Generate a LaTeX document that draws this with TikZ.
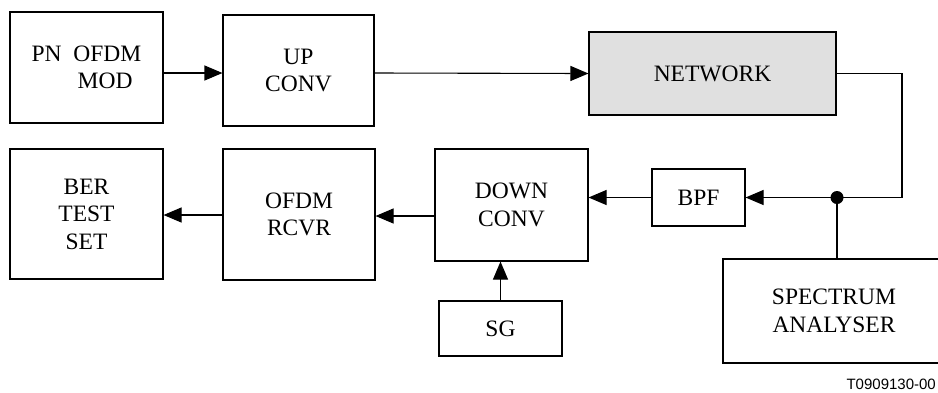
\documentclass[tikz,border=0pt]{standalone}
\usepackage{fontspec}
\setmainfont{Liberation Serif}
\newfontfamily\labelfont{Liberation Sans}
\usetikzlibrary{arrows.meta}
\begin{document}
\begin{tikzpicture}[x=1pt,y=-1pt,
  blk/.style={draw,line width=1.1pt,rectangle,inner sep=0pt,align=center,
    font=\fontsize{23.5}{27.5}\selectfont},
  arr/.style={line width=1.1pt,-{Triangle[length=18pt,width=15pt]}},
  wire/.style={line width=1.1pt}]
\useasboundingbox (0,0) rectangle (938,392);
\clip (0,0) rectangle (938,392);
\node[blk,minimum width=153pt,minimum height=111pt,align=left] (pn) at (86.5,67.5) {PN\ \ OFDM\\\hspace*{46pt}MOD};
\node[blk,minimum width=151pt,minimum height=111pt] (up) at (298.5,70.5) {UP\\CONV};
\node[blk,minimum width=247pt,minimum height=83pt,fill={rgb,255:red,224;green,224;blue,224}] (net) at (712.5,73.5) {NETWORK};
\node[blk,minimum width=153pt,minimum height=130pt] (ber) at (86.5,214) {BER\\TEST\\SET};
\node[blk,minimum width=152pt,minimum height=131pt] (ofdm) at (299,214.5) {OFDM\\RCVR};
\node[blk,minimum width=153pt,minimum height=112pt] (down) at (511.5,205) {DOWN\\CONV};
\node[blk,minimum width=93pt,minimum height=57pt,text depth=-3pt] (bpf) at (698.5,197.5) {BPF};
\node[blk,minimum width=123pt,minimum height=55pt,text depth=-3pt] (sg) at (500.5,328.5) {SG};
\node[blk,minimum width=222pt,minimum height=104pt] (spec) at (834,311) {SPECTRUM\\ANALYSER};
\node[anchor=base east,inner sep=0pt,font=\labelfont\fontsize{15}{18}\selectfont] (lbl) at (936,389) {T0909130-00};
\coordinate (corner1) at (902,73.5);
\coordinate (corner2) at (902,197.5);
\coordinate (j) at (837,197.5);
\draw[arr] (pn.east |- 0,73) -- (up.west |- 0,73);
\draw[arr] (up.east |- 0,73) -- (net.west);
\draw[wire] (net.east) -- (corner1) -- (corner2) -- (j);
\draw[arr] (j) -- (bpf.east);
\fill (j) circle (6.5pt);
\draw[wire] (j) -- (j |- spec.north);
\draw[arr] (bpf.west) -- (bpf.west -| down.east);
\draw[arr] (down.west |- 0,216) -- (ofdm.east |- 0,216);
\draw[arr] (ofdm.west |- 0,215) -- (ber.east |- 0,215);
\draw[arr] (sg.north) -- (sg.north |- down.south);
\end{tikzpicture}
\end{document}
